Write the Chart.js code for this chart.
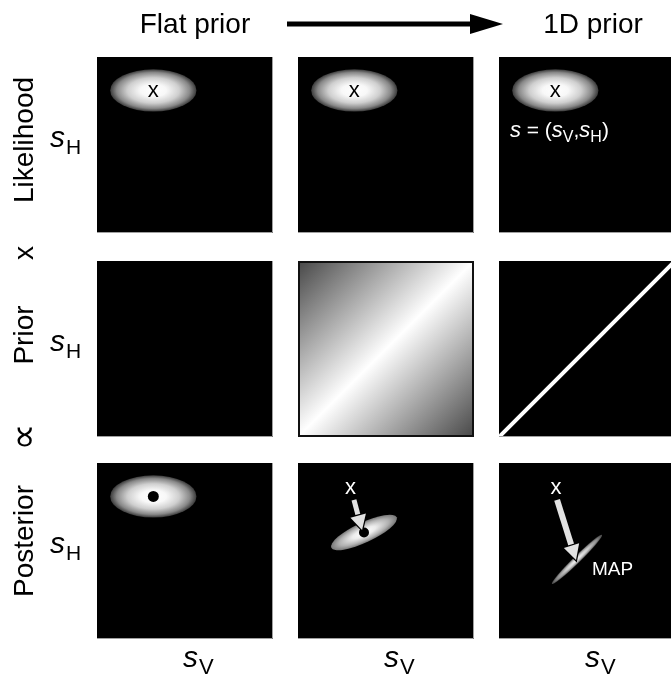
<!DOCTYPE html>
<html>
<head>
<meta charset="utf-8">
<script src="https://cdn.jsdelivr.net/npm/chart.js@4.4.0/dist/chart.umd.min.js"></script>
<style>
  html, body { margin: 0; padding: 0; background: #fff; overflow: hidden; }
  #fig { position: relative; width: 671px; height: 681px; overflow: hidden; }
  #fig canvas { position: absolute; }
</style>
</head>
<body>
<div id="fig"><canvas id="labels" width="671" height="681" style="left:0;top:0"></canvas></div>
<script>
// ===== DATA (stimulus space s = (sV, sH), arbitrary units 0..10) =====
const colTitles = ['Flat prior', '1D prior'];
const rowLabels = ['Likelihood', 'Prior', 'Posterior'];
const rowOperators = ['x', '\u221D'];
const axisRange = [0, 10];

const observation = [3.2, 8.1];            // "x", centre of the likelihood
const likelihoodAxes = [2.45, 1.2];         // half widths along sV, sH
const flatPosteriorMean = [3.2, 8.1];
const tiltedPosteriorMean = [3.75, 6.05];
const tiltedPosteriorAxes = [2.05, 0.57];
const tiltedPosteriorAngle = 25;            // degrees
const linePosteriorMean = [4.43, 4.52];
const linePosteriorAxes = [1.99, 0.2];
const linePosteriorAngle = 44.4;
const priorDiagonal = [[0, 0], [10, 10]];
const priorRidgeGray = ['#474747', '#ffffff', '#474747'];
const arrowTilted = [[3.18, 7.9], [3.64, 6.19]];
const arrowLine = [[3.3, 7.9], [4.375, 4.49]];
const obsLabelTilted = [2.98, 8.58];
const obsLabelLine = [3.24, 8.58];
const mapLabel = [5.28, 3.64];
const sLabel = [0.62, 5.45];

// ===== LAYOUT =====
const PANEL = 176;
const colLeft = [97, 298, 499];
const rowTop = [57, 261, 463];
const FONT = '"Liberation Sans", Arial, Helvetica, sans-serif';

function drawRich(ctx, x, y, parts, color) {
  ctx.fillStyle = color;
  ctx.textAlign = 'left';
  ctx.textBaseline = 'alphabetic';
  parts.forEach(p => {
    ctx.font = (p.italic ? 'italic ' : '') + p.size + 'px ' + (p.family || FONT);
    ctx.fillText(p.t, x, y + (p.dy || 0));
    x += ctx.measureText(p.t).width + (p.gap || 0);
  });
}

function drawBlob(ctx, x, y, b) {
  const cx = x.getPixelForValue(b.mean[0]);
  const cy = y.getPixelForValue(b.mean[1]);
  const rx = x.getPixelForValue(b.mean[0] + b.axes[0]) - cx;
  const ry = cy - y.getPixelForValue(b.mean[1] + b.axes[1]);
  ctx.save();
  ctx.translate(cx, cy);
  ctx.rotate(-(b.angle || 0) * Math.PI / 180);
  ctx.scale(rx, ry);
  const g = ctx.createRadialGradient(0, 0, 0, 0, 0, 1);
  b.stops.forEach(([o, c]) => g.addColorStop(o, c));
  ctx.fillStyle = g;
  ctx.beginPath();
  ctx.arc(0, 0, 1, 0, Math.PI * 2);
  ctx.fill();
  ctx.restore();
}

function drawArrow(ctx, x, y, pts, width) {
  const x0 = x.getPixelForValue(pts[0][0]), y0 = y.getPixelForValue(pts[0][1]);
  const x1 = x.getPixelForValue(pts[1][0]), y1 = y.getPixelForValue(pts[1][1]);
  const ang = Math.atan2(y1 - y0, x1 - x0);
  const headLen = 15, headW = 8;
  const bx = x1 - headLen * Math.cos(ang), by = y1 - headLen * Math.sin(ang);
  ctx.save();
  ctx.strokeStyle = '#e2e2e2';
  ctx.lineWidth = width;
  ctx.beginPath();
  ctx.moveTo(x0, y0);
  ctx.lineTo(bx, by);
  ctx.stroke();
  ctx.beginPath();
  ctx.moveTo(x1, y1);
  ctx.lineTo(bx + headW * Math.sin(ang), by - headW * Math.cos(ang));
  ctx.lineTo(bx - headW * Math.sin(ang), by + headW * Math.cos(ang));
  ctx.closePath();
  ctx.lineWidth = 2.5;
  ctx.strokeStyle = '#000';
  ctx.stroke();
  ctx.fillStyle = '#e2e2e2';
  ctx.fill();
  ctx.restore();
}

const panelPainter = {
  id: 'panelPainter',
  beforeDatasetsDraw(chart, args, opts) {
    const { ctx, chartArea: a, scales: { x, y } } = chart;
    ctx.save();
    ctx.fillStyle = '#000';
    ctx.fillRect(a.left, a.top, a.width, a.height);
    if (opts.ridge) {
      const g = ctx.createLinearGradient(
        x.getPixelForValue(axisRange[0]), y.getPixelForValue(axisRange[1]),
        x.getPixelForValue(axisRange[1]), y.getPixelForValue(axisRange[0]));
      priorRidgeGray.forEach((c, i) => g.addColorStop(i / (priorRidgeGray.length - 1), c));
      ctx.fillStyle = g;
      ctx.fillRect(a.left, a.top, a.width, a.height);
    }
    (opts.blobs || []).forEach(b => drawBlob(ctx, x, y, b));
    ctx.restore();
  },
  afterDatasetsDraw(chart, args, opts) {
    const { ctx, chartArea: a, scales: { x, y } } = chart;
    ctx.save();
    (opts.arrows || []).forEach(p => drawArrow(ctx, x, y, p.pts, p.width));
    (opts.texts || []).forEach(t => {
      drawRich(ctx, x.getPixelForValue(t.pos[0]) + (t.dx || 0), y.getPixelForValue(t.pos[1]) + (t.dy || 0), t.parts, t.color);
    });
    if (opts.ridge) {
      ctx.strokeStyle = '#111';
      ctx.lineWidth = 2;
      ctx.strokeRect(a.left + 1, a.top + 1, a.width - 2, a.height - 2);
    } else {
      ctx.strokeStyle = '#a0a0a0';
      ctx.lineWidth = 1;
      ctx.beginPath();
      ctx.moveTo(a.right - 0.5, a.top);
      ctx.lineTo(a.right - 0.5, a.bottom - 0.5);
      ctx.lineTo(a.left, a.bottom - 0.5);
      ctx.stroke();
    }
    ctx.restore();
  }
};

const likeStops = [[0, '#ffffff'], [0.3, '#f8f8f8'], [0.6, '#cfcfcf'], [0.85, '#888'], [1, '#3a3a3a']];
const likeBlob = { mean: observation, axes: likelihoodAxes, stops: likeStops };
const obsMark = { pos: observation, dx: -5.5, dy: 6.5, color: '#000', parts: [{ t: 'x', size: 22 }] };
const sText = { pos: sLabel, color: '#fff', parts: [
  { t: 's', size: 22, italic: true }, { t: ' = (', size: 21 },
  { t: 's', size: 22, italic: true }, { t: 'V', size: 16, dy: 5 }, { t: ',', size: 21 },
  { t: 's', size: 22, italic: true }, { t: 'H', size: 16, dy: 5 }, { t: ')', size: 21 }] };
const dot = (m, r) => ({ data: [{ x: m[0], y: m[1] }], pointRadius: r, pointBackgroundColor: '#000', pointBorderWidth: 0 });

const panels = [
  { row: 0, col: 0, blobs: [likeBlob], texts: [obsMark] },
  { row: 0, col: 1, blobs: [likeBlob], texts: [obsMark] },
  { row: 0, col: 2, blobs: [likeBlob], texts: [obsMark, sText] },
  { row: 1, col: 0 },
  { row: 1, col: 1, ridge: true },
  { row: 1, col: 2, datasets: [{ type: 'line', data: priorDiagonal.map(p => ({ x: p[0], y: p[1] })),
      borderColor: '#fff', borderWidth: 4, pointRadius: 0 }] },
  { row: 2, col: 0, blobs: [{ mean: flatPosteriorMean, axes: likelihoodAxes, stops: likeStops }],
    datasets: [dot(flatPosteriorMean, 5.5)] },
  { row: 2, col: 1,
    blobs: [{ mean: tiltedPosteriorMean, axes: tiltedPosteriorAxes, angle: tiltedPosteriorAngle,
      stops: [[0, '#ffffff'], [0.35, '#ececec'], [0.75, '#b0b0b0'], [1, '#777']] }],
    datasets: [dot(tiltedPosteriorMean, 5)], arrows: [{ pts: arrowTilted, width: 5 }],
    texts: [{ pos: obsLabelTilted, dx: -5.5, dy: 6.5, color: '#fff', parts: [{ t: 'x', size: 22 }] }] },
  { row: 2, col: 2,
    blobs: [{ mean: linePosteriorMean, axes: linePosteriorAxes, angle: linePosteriorAngle,
      stops: [[0, '#f4f4f4'], [0.45, '#c8c8c8'], [0.8, '#8a8a8a'], [1, '#444']] }],
    arrows: [{ pts: arrowLine, width: 6 }],
    texts: [{ pos: obsLabelLine, dx: -5.5, dy: 6.5, color: '#fff', parts: [{ t: 'x', size: 22 }] },
            { pos: mapLabel, color: '#fff', parts: [{ t: 'MAP', size: 19 }] }] }
];

const fig = document.getElementById('fig');
panels.forEach(p => {
  const cv = document.createElement('canvas');
  cv.width = PANEL;
  cv.height = PANEL;
  cv.style.left = colLeft[p.col] + 'px';
  cv.style.top = rowTop[p.row] + 'px';
  fig.appendChild(cv);
  new Chart(cv, {
    type: 'scatter',
    data: { datasets: p.datasets || [] },
    options: {
      responsive: false,
      animation: false,
      events: [],
      layout: { padding: 0, autoPadding: false },
      scales: {
        x: { type: 'linear', min: axisRange[0], max: axisRange[1], display: false },
        y: { type: 'linear', min: axisRange[0], max: axisRange[1], display: false }
      },
      plugins: {
        legend: { display: false },
        tooltip: { enabled: false },
        panelPainter: { blobs: p.blobs, texts: p.texts, arrows: p.arrows, ridge: p.ridge }
      }
    },
    plugins: [panelPainter]
  });
});

// ===== OUTER LABELS =====
const lc = document.getElementById('labels').getContext('2d');
lc.fillStyle = '#000';
lc.font = '28px ' + FONT;
lc.textAlign = 'center';
lc.textBaseline = 'alphabetic';
lc.fillText(colTitles[0], 195, 33);
lc.fillText(colTitles[1], 593, 33);

// progression arrow
lc.strokeStyle = '#000';
lc.lineWidth = 5;
lc.beginPath();
lc.moveTo(287, 24);
lc.lineTo(474, 24);
lc.stroke();
lc.beginPath();
lc.moveTo(470, 14);
lc.lineTo(503, 24);
lc.lineTo(470, 34);
lc.closePath();
lc.fill();

// row labels, rotated
const rowLabelY = [140, 335, 541];
const opLabelY = [253, 437];
function vText(t, cx, cy, font) {
  lc.save();
  lc.translate(cx, cy);
  lc.rotate(-Math.PI / 2);
  lc.textAlign = 'center';
  lc.font = font || ('28px ' + FONT);
  lc.fillText(t, 0, 0);
  lc.restore();
}
rowLabels.forEach((t, i) => vText(t, 33, rowLabelY[i]));
vText(rowOperators[0], 33, opLabelY[0]);
vText(rowOperators[1], 36, opLabelY[1], '38px "DejaVu Sans", sans-serif');

// axis names
rowTop.forEach(top => {
  drawRich(lc, 50, top + 90, [{ t: 's', size: 30, italic: true, gap: 1 }, { t: 'H', size: 21, dy: 7 }], '#000');
});
colLeft.forEach(left => {
  drawRich(lc, left + 86, 667, [{ t: 's', size: 30, italic: true, gap: 1 }, { t: 'V', size: 22, dy: 7 }], '#000');
});
</script>
</body>
</html>
